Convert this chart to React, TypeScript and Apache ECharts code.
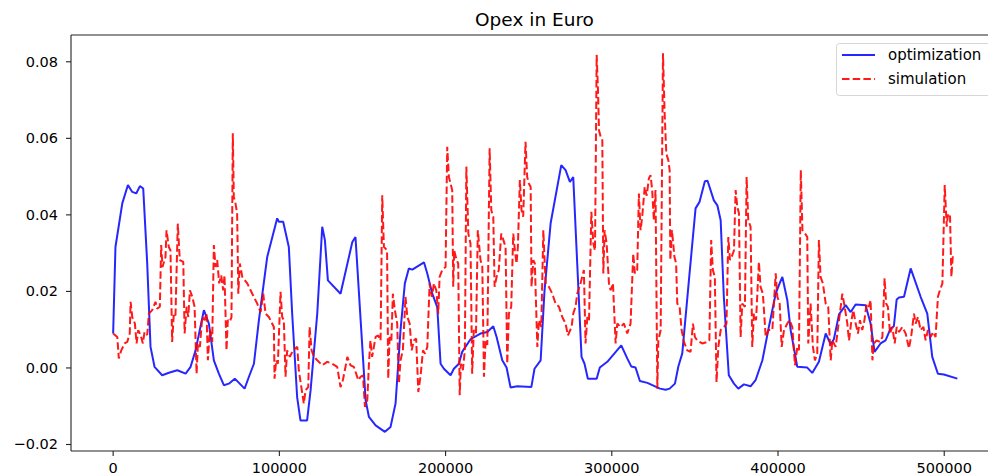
import React, { useEffect, useRef } from "react";
import * as echarts from "echarts";

// Opex per time step (x in seconds), two runs
const optimization: [number, number][] = [
  [0, 0.009], [1400, 0.0316], [5500, 0.043], [8900, 0.0478], [11500, 0.046], [13900, 0.0456],
  [16100, 0.0475], [18100, 0.0469], [20500, 0.0273], [22500, 0.0055], [24900, 0.0003], [29500, -0.0019],
  [34000, -0.0012], [38600, -0.0006], [43600, -0.0015], [46600, 0.0003], [49600, 0.0046], [54600, 0.0151],
  [57600, 0.0116], [60600, 0.002], [63600, -0.0015], [66600, -0.0045], [69600, -0.0041], [73200, -0.0028],
  [79100, -0.0054], [81700, -0.0023], [84700, 0.0011], [87700, 0.0125], [92700, 0.029], [98700, 0.0391],
  [99700, 0.0382], [102300, 0.0382], [105700, 0.0316], [107700, 0.0143], [110700, -0.0076], [112700, -0.0137],
  [116700, -0.0137], [118800, -0.0058], [122800, 0.0142], [125800, 0.0369], [127400, 0.0334], [129200, 0.0229],
  [136800, 0.0194], [143900, 0.0329], [145800, 0.0342], [148900, 0.0125], [151900, -0.0084], [153900, -0.0128],
  [157900, -0.015], [163500, -0.0167], [166900, -0.0154], [169900, -0.0093], [172900, 0.0099], [175500, 0.0221],
  [177900, 0.026], [180000, 0.0257], [187000, 0.0276], [189000, 0.0247], [192000, 0.0194], [195000, 0.0159],
  [197000, 0.0011], [199000, -0.0002], [203000, -0.0019], [205000, -0.0002], [208000, 0.0011], [210000, 0.0042],
  [215000, 0.0075], [221000, 0.009], [225100, 0.0094], [228700, 0.0109], [230700, 0.0081], [234100, 0.002],
  [236700, 0.0001], [239100, -0.0051], [243100, -0.0048], [251600, -0.005], [253500, -0.0002], [257200, 0.002],
  [259500, 0.02], [263200, 0.0378], [269600, 0.053], [272200, 0.0517], [274800, 0.0486], [276800, 0.0499],
  [279200, 0.0273], [281800, 0.0029], [283600, 0.0011], [285600, -0.0028], [290900, -0.0028], [292800, 0.0001],
  [297300, 0.0016], [305700, 0.0059], [309300, 0.0025], [311700, 0.0004], [314300, 0.0001], [316900, -0.0034],
  [321400, -0.0039], [329000, -0.0054], [332400, -0.0057], [334800, -0.0054], [338000, -0.0041], [340000, 0.0003],
  [342400, 0.0038], [346400, 0.0229], [350400, 0.0417], [352800, 0.0434], [356000, 0.0488], [357600, 0.0489],
  [361400, 0.0438], [363500, 0.0425], [365500, 0.0386], [367400, 0.0186], [370400, -0.0019], [373500, -0.0041],
  [376100, -0.0054], [379500, -0.0043], [383500, -0.0048], [386500, -0.0032], [390600, 0.002], [394500, 0.0107],
  [398600, 0.0194], [400500, 0.0216], [402600, 0.0238], [405600, 0.0177], [407600, 0.0099], [411600, 0.0003],
  [417600, 0.0001], [420600, -0.0013], [424600, 0.0016], [428700, 0.009], [431700, 0.0062], [433600, 0.0075],
  [436700, 0.014], [440700, 0.0164], [443700, 0.0146], [446700, 0.0166], [452700, 0.0164], [455700, 0.0116],
  [458100, 0.0042], [461700, 0.0064], [464700, 0.0072], [467700, 0.0103], [469700, 0.0109], [471400, 0.0179],
  [472800, 0.0184], [475800, 0.0186], [479800, 0.026], [485800, 0.0186], [489800, 0.0142], [492800, 0.0029],
  [496200, -0.0015], [499800, -0.0017], [507900, -0.0028],
];

const simulation: [number, number][] = [
  [0, 0.009], [2500, 0.0081], [3400, 0.0025], [4900, 0.0046], [6900, 0.0064], [8500, 0.0068], [10000, 0.009],
  [10500, 0.0173], [11500, 0.0133], [13100, 0.0116], [14100, 0.0064], [15100, 0.0099], [16500, 0.0086],
  [17900, 0.0064], [18900, 0.0094], [20500, 0.0086], [21500, 0.0142], [23500, 0.0151], [25500, 0.0173],
  [26500, 0.0155], [28100, 0.016], [28900, 0.0321], [29700, 0.0264], [31500, 0.029], [32100, 0.036],
  [33500, 0.0316], [34500, 0.0307], [35500, 0.0068], [36500, 0.0142], [37500, 0.0137], [38900, 0.0377],
  [40100, 0.0282], [42200, 0.0277], [43000, 0.009], [44200, 0.016], [45200, 0.0133], [46200, 0.0203],
  [47600, 0.0186], [49000, 0.016], [50200, -0.0015], [51000, 0.0064], [52200, 0.0055], [53600, 0.0133],
  [55000, 0.0125], [56200, 0.0142], [57000, 0.002], [58200, 0.0099], [59600, 0.0068], [60600, 0.0321],
  [61600, 0.0264], [62600, 0.0282], [63800, 0.0221], [65000, 0.0242], [66200, 0.0203], [67000, 0.0242],
  [68200, 0.0046], [69000, 0.0125], [70200, 0.0121], [71200, 0.0133], [72000, 0.0613], [72600, 0.0447],
  [73600, 0.043], [74600, 0.0404], [75300, 0.0194], [76200, 0.0273], [77700, 0.0238], [80700, 0.0221],
  [83700, 0.0194], [86700, 0.0168], [88700, 0.0146], [90300, 0.0194], [91700, 0.0142], [93700, 0.0133],
  [96700, 0.0107], [97100, -0.0028], [98100, 0.002], [99100, 0.0011], [100700, 0.0199], [101700, 0.0133],
  [102700, 0.0125], [103700, -0.0023], [104700, 0.0046], [106300, 0.0029], [107800, 0.0042], [109300, 0.005],
  [110800, 0.0055], [111700, -0.0006], [113800, -0.0067], [114700, -0.0093], [115800, -0.0058], [117400, -0.005],
  [118200, 0.0107], [119400, 0.0046], [120800, 0.0029], [122800, 0.002], [125800, 0.0007], [128800, 0.0016],
  [131800, 0.0011], [134800, 0.0003], [136800, -0.005], [138200, -0.0032], [139800, 0.0003], [140900, 0.0029],
  [142800, 0.0007], [144800, 0.0003], [147500, -0.0032], [148900, -0.0023], [150300, -0.0019], [151500, -0.0102],
  [152900, -0.0084], [153900, 0.0011], [154800, 0.0072], [155800, 0.0029], [157900, 0.0081], [159500, 0.0085],
  [160900, 0.0072], [161900, 0.0451], [162900, 0.0316], [163900, 0.0312], [164800, 0.0307], [165500, -0.0028],
  [166300, 0.0081], [167400, 0.0072], [168300, 0.0194], [169500, 0.0151], [170900, 0.0116], [171900, -0.0041],
  [172900, 0.002], [174300, 0.0046], [175900, 0.0186], [177000, 0.0133], [178400, 0.0116], [179600, 0.0046],
  [180900, 0.0072], [182300, 0.0077], [183600, -0.0063], [185000, -0.0019], [186400, 0.0046], [187600, 0.0037],
  [189000, 0.0055], [190400, 0.0221], [191800, 0.0186], [193000, 0.0221], [194400, 0.0203], [195600, 0.0142],
  [196400, 0.0238], [198000, 0.0256], [200000, 0.0264], [201000, 0.0578], [202000, 0.0499], [203000, 0.0482],
  [204000, 0.0464], [204600, 0.0212], [205200, 0.0307], [206600, 0.0282], [207600, 0.0273], [208500, -0.0071],
  [209200, 0.0011], [210400, -0.0006], [211600, 0.0046], [212500, 0.0526], [213700, 0.0351], [215000, 0.0325],
  [216000, -0.0015], [217000, 0.0099], [218300, 0.009], [219400, 0.036], [221000, 0.0282], [222100, 0.0265],
  [223100, -0.0023], [224100, 0.0072], [225100, 0.006], [226500, 0.0574], [227500, 0.0412], [228700, 0.0395],
  [229500, 0.0212], [230700, 0.0238], [232000, 0.0256], [233500, 0.0351], [234800, 0.0334], [236100, 0.0316],
  [237100, 0.0011], [238100, 0.0142], [239500, 0.016], [240700, 0.0351], [241700, 0.0307], [242700, 0.0273],
  [243500, 0.0316], [244700, 0.0491], [245700, 0.0412], [246700, 0.0395], [248100, 0.0591], [249100, 0.0499],
  [250100, 0.0482], [251200, 0.0473], [251700, 0.0212], [252800, 0.0282], [253700, 0.0273], [255200, 0.0055],
  [256200, 0.0125], [257600, 0.0107], [258800, 0.036], [260200, 0.0221], [262200, 0.0212], [264200, 0.0194],
  [266200, 0.0168], [268200, 0.016], [270200, 0.0133], [272200, 0.0116], [273600, 0.0085], [275800, 0.0107],
  [276800, 0.0142], [278200, 0.016], [279200, 0.0194], [281200, 0.0221], [283200, 0.0256], [284200, 0.0064],
  [285300, 0.0133], [286300, 0.0125], [287700, 0.0408], [288900, 0.0325], [289900, 0.0307], [290900, 0.0818],
  [291700, 0.0726], [292300, 0.0621], [293300, 0.0604], [294300, 0.0595], [294900, 0.0247], [295700, 0.036],
  [296900, 0.0325], [298300, 0.0221], [299300, 0.0203], [300700, 0.0221], [302300, 0.0064], [303300, 0.0116],
  [305300, 0.0107], [307300, 0.0116], [309300, 0.009], [311300, 0.0116], [312900, 0.0299], [313900, 0.0247],
  [315300, 0.0256], [316300, 0.0456], [317300, 0.036], [318300, 0.0395], [319800, 0.0473], [321000, 0.045],
  [322300, 0.0495], [323300, 0.0504], [324300, 0.0465], [325300, 0.0386], [326300, 0.0465], [327400, -0.0054],
  [328000, 0.0072], [329400, 0.0099], [330800, 0.0822], [331800, 0.0665], [332800, 0.056], [334000, 0.0543],
  [334800, 0.0517], [335200, 0.0282], [336200, 0.036], [337700, 0.029], [338700, 0.0273], [339400, 0.0168],
  [340800, 0.016], [342000, 0.0099], [343400, 0.0068], [345400, 0.0046], [347400, 0.0042], [348800, 0.0116],
  [350000, 0.0081], [351400, 0.0072], [354400, 0.0064], [357500, 0.0068], [358700, 0.0072], [359800, 0.0334],
  [360800, 0.0256], [362000, 0.0238], [363000, -0.0037], [364100, 0.0055], [365500, 0.0099], [367500, 0.0107],
  [369000, 0.0116], [370100, 0.0342], [371100, 0.0282], [372100, 0.029], [373500, 0.0307], [374500, 0.0465],
  [375500, 0.0421], [376500, 0.0404], [377500, 0.0081], [378500, 0.0168], [380100, 0.016], [381100, 0.0499],
  [382100, 0.0386], [383500, 0.0369], [384500, 0.0055], [385500, 0.0142], [386800, 0.0125], [388500, 0.0277],
  [389500, 0.0212], [390900, 0.0194], [392600, 0.0081], [394200, 0.0099], [396600, 0.0099], [398600, 0.0247],
  [399600, 0.0186], [401000, 0.0168], [402200, 0.0055], [403600, 0.0099], [405600, 0.0116], [407000, 0.0125],
  [408600, 0.0107], [410200, 0.0007], [411600, 0.0055], [412600, 0.0046], [413700, 0.0517], [414700, 0.036],
  [416300, 0.0351], [417600, 0.0342], [418200, 0.0064], [419600, 0.0168], [421000, 0.0055], [422200, 0.002],
  [423600, 0.0037], [424600, 0.0334], [425600, 0.0238], [427000, 0.0221], [428700, 0.0168], [430200, 0.016],
  [431700, 0.002], [432700, 0.0072], [434700, 0.0055], [436700, 0.0125], [438700, 0.0194], [440100, 0.016],
  [441700, 0.0116], [442700, 0.0072], [444200, 0.0125], [445300, 0.0151], [446700, 0.0116], [448100, 0.009],
  [449300, 0.0125], [450700, 0.0099], [452000, 0.0125], [453300, 0.0168], [454700, 0.016], [455700, 0.0177],
  [456800, 0.002], [457700, 0.0064], [459300, 0.0072], [461300, 0.0068], [462800, 0.0081], [464100, 0.0234],
  [465100, 0.0168], [466100, 0.016], [467400, 0.009], [468800, 0.0107], [470200, 0.0064], [471400, 0.0107],
  [472800, 0.0094], [474800, 0.0107], [476800, 0.009], [478800, 0.0051], [480200, 0.0085], [481800, 0.0142],
  [482800, 0.0116], [484200, 0.0133], [485800, 0.0099], [487500, 0.0107], [488800, 0.0072], [490200, 0.0099],
  [491800, 0.0081], [493400, 0.0094], [494800, 0.0081], [496200, 0.0186], [497400, 0.0203], [498900, 0.0221],
  [500300, 0.0478], [501500, 0.0369], [502300, 0.0404], [503500, 0.0395], [504300, 0.0238], [505100, 0.029],
  [505900, 0.029],
];

const xTicks = [0, 100000, 200000, 300000, 400000, 500000];
const yTicks = [-0.02, 0, 0.02, 0.04, 0.06, 0.08];

const X_MIN = -25350;
const X_MAX = 532350;
const Y_MIN = -0.0217;
const Y_MAX = 0.087;

const FONT = "DejaVu Sans";
const BLUE = "rgba(0,0,255,0.85)";
const RED = "rgba(255,0,0,0.9)";
const DASH = [7.5, 3.2];
const INK = "#222";

export default function App() {
  const ref = useRef<HTMLDivElement>(null);

  useEffect(() => {
    if (!ref.current) return;
    const chart = echarts.init(ref.current, undefined, { renderer: "svg" });

    const labelStyle = { color: "#000", fontFamily: FONT, fontSize: 14.5 };

    chart.setOption({
      animation: false,
      backgroundColor: "#fff",
      grid: { left: 71, top: 35, width: 927, height: 416, outerBoundsMode: "none", containLabel: false },
      xAxis: {
        type: "value",
        min: X_MIN,
        max: X_MAX,
        splitLine: { show: false },
        axisLine: { show: false },
        axisTick: { show: false },
        axisLabel: {
          ...labelStyle,
          customValues: xTicks,
          margin: 9,
          formatter: (v: number) => String(Math.round(v)),
        },
      },
      yAxis: {
        type: "value",
        min: Y_MIN,
        max: Y_MAX,
        splitLine: { show: false },
        axisLine: { show: false },
        axisTick: { show: false },
        axisLabel: {
          ...labelStyle,
          customValues: yTicks,
          margin: 13,
          formatter: (v: number) => v.toFixed(2).replace("-", "\u2212"),
        },
      },
      series: [
        {
          name: "optimization",
          type: "line",
          data: optimization,
          showSymbol: false,
          symbol: "none",
          lineStyle: { color: BLUE, width: 2 },
          z: 2,
        },
        {
          name: "simulation",
          type: "line",
          data: simulation,
          showSymbol: false,
          symbol: "none",
          lineStyle: { color: RED, width: 2, type: DASH },
          z: 3,
        },
      ],
    });

    // Axes frame and tick marks, placed through the chart's own scales
    const px = (x: number, y: number) => chart.convertToPixel({ gridIndex: 0 }, [x, y]) as number[];
    const [left, bottom] = px(X_MIN, Y_MIN);
    const [right, top] = px(X_MAX, Y_MAX);
    const frame = [
      { x1: left, y1: top, x2: right, y2: top },
      { x1: left, y1: bottom, x2: right, y2: bottom },
      { x1: left, y1: top, x2: left, y2: bottom },
      { x1: right, y1: top, x2: right, y2: bottom },
    ];
    const xTickMarks = xTicks.map((v) => {
      const x = px(v, Y_MIN)[0];
      return { x1: x, y1: bottom, x2: x, y2: bottom + 5 };
    });
    const yTickMarks = yTicks.map((v) => {
      const y = px(X_MIN, v)[1];
      return { x1: left - 5, y1: y, x2: left, y2: y };
    });
    const strokes = [...frame, ...xTickMarks, ...yTickMarks].map((shape) => ({
      type: "line",
      z: 50,
      silent: true,
      shape,
      style: { stroke: INK, lineWidth: 1.1 },
    }));

    chart.setOption({
      graphic: [
        ...strokes,
        {
          type: "text",
          x: (left + right) / 2,
          y: 19.5,
          z: 100,
          style: {
            text: "Opex in Euro",
            fontFamily: FONT,
            fontSize: 18.5,
            fill: "#000",
            align: "center",
            verticalAlign: "middle",
          },
        },
        {
          type: "rect",
          z: 100,
          shape: { x: 836.5, y: 43.5, width: 158, height: 52, r: 3 },
          style: { fill: "rgba(255,255,255,0.8)", stroke: "rgba(204,204,204,0.8)", lineWidth: 1 },
        },
        {
          type: "line",
          z: 101,
          shape: { x1: 842, y1: 55, x2: 875, y2: 55 },
          style: { stroke: BLUE, lineWidth: 2 },
        },
        {
          type: "line",
          z: 101,
          shape: { x1: 842, y1: 79, x2: 875, y2: 79 },
          style: { stroke: RED, lineWidth: 2, lineDash: DASH },
        },
        {
          type: "text",
          x: 888,
          y: 55,
          z: 101,
          style: { text: "optimization", fontFamily: FONT, fontSize: 15, fill: "#000", verticalAlign: "middle" },
        },
        {
          type: "text",
          x: 888,
          y: 79,
          z: 101,
          style: { text: "simulation", fontFamily: FONT, fontSize: 15, fill: "#000", verticalAlign: "middle" },
        },
      ],
    });

    return () => chart.dispose();
  }, []);

  return (
    <div
      ref={ref}
      style={{ position: "fixed", left: 0, top: 0, width: 988, height: 476, background: "#fff" }}
    />
  );
}
